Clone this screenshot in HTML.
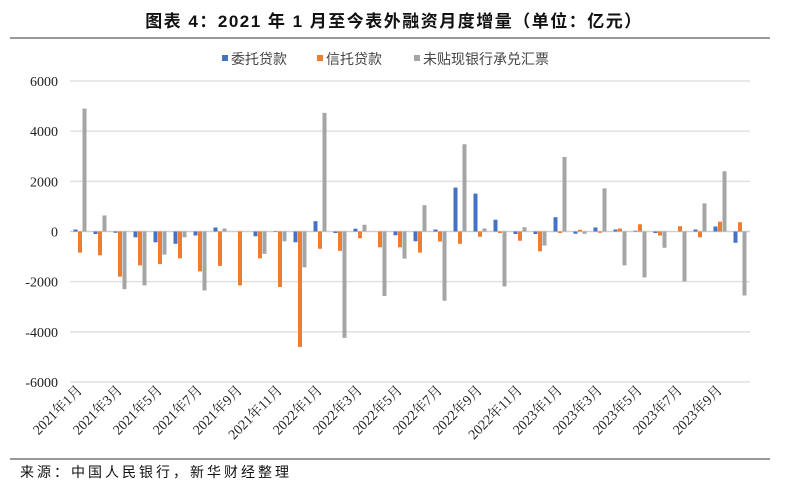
<!DOCTYPE html>
<html><head><meta charset="utf-8"><style>
body{margin:0;background:#fff;width:788px;height:492px;overflow:hidden;font-family:"Liberation Sans","Noto Sans CJK SC",sans-serif;}
</style></head><body>
<svg width="788" height="492" xmlns="http://www.w3.org/2000/svg">
<text x="394" y="27" text-anchor="middle" font-size="17" font-weight="bold" letter-spacing="1.5" fill="#111" font-family="Liberation Sans, Noto Sans CJK SC, sans-serif">图表 4：2021 年 1 月至今表外融资月度增量（单位：亿元）</text>
<line x1="10" y1="38" x2="770" y2="38" stroke="#333" stroke-width="1"/>
<g id="legend" font-size="14" fill="#444" font-family="Liberation Sans, Noto Sans CJK SC, sans-serif"></g>
<g id="grid"></g><g id="bars"></g><g id="xlabels"></g>
<line x1="10" y1="459" x2="770" y2="459" stroke="#333" stroke-width="1"/>
<text x="20" y="477" font-size="14" letter-spacing="3" fill="#111" font-family="Liberation Sans, Noto Sans CJK SC, sans-serif">来源：中国人民银行，新华财经整理</text>
</svg>
<script>
const categories=[];
for(let y=2021;y<=2023;y++)for(let m=1;m<=12;m++){if(y===2023&&m>10)break;categories.push(y+'年'+m+'月');}
const seriesNames=['委托贷款','信托贷款','未贴现银行承兑汇票'];
const entrusted=[80,-100,-50,-230,-430,-490,-160,160,0,-190,20,-430,410,-60,110,0,-150,-390,80,1750,1510,470,-100,-100,570,-90,160,80,30,-60,0,80,200,-450];
const trust=[-840,-950,-1800,-1350,-1300,-1070,-1590,-1370,-2150,-1070,-2210,-4600,-690,-770,-270,-630,-630,-840,-400,-490,-210,-60,-370,-790,-60,70,-50,120,290,-160,210,-230,390,370];
const bills=[4900,640,-2300,-2150,-920,-230,-2350,120,0,-890,-390,-1430,4730,-4240,270,-2570,-1080,1050,-2760,3480,120,-2190,170,-560,2970,-90,1720,-1350,-1830,-650,-1990,1120,2400,-2550];
const yTicks=[6000,4000,2000,0,-2000,-4000,-6000];
const colors=['#4472c4','#ed7d31','#a5a5a5'];
const NS='http://www.w3.org/2000/svg';
const L=70,R=750,yTop=81,yBot=382,vMax=6000,vMin=-6000;
const yS=v=>yTop+(vMax-v)/(vMax-vMin)*(yBot-yTop);
const step=(R-L)/categories.length;
const xC=i=>L+step*(i+0.5);
function mk(t,a){const e=document.createElementNS(NS,t);for(const k in a)e.setAttribute(k,a[k]);return e;}
const grid=document.getElementById('grid');
yTicks.forEach(v=>{
 const ln=mk('line',{x1:L,x2:R,y1:yS(v),y2:yS(v),stroke:v===0?'#d0d0d0':'#e0e0e0','stroke-width':1.5});
 
 
 grid.appendChild(ln);
 const t=mk('text',{x:58,y:yS(v)+5,'text-anchor':'end','font-size':14,fill:'#222','font-family':'Liberation Serif, serif'});
 t.textContent=String(v);
 
 
 grid.appendChild(t);
});
const bars=document.getElementById('bars');
const series=[entrusted,trust,bills];
series.forEach((arr,s)=>{arr.forEach((v,i)=>{
 const x=xC(i)+(s-1)*4.5-2;const y0=yS(0),y1=yS(v);
 const r=mk('rect',{x:x,y:Math.min(y0,y1),width:4,height:Math.max(Math.abs(y1-y0),0.01),fill:colors[s]});
 
 
 bars.appendChild(r);
});});
const xl=document.getElementById('xlabels');
categories.forEach((c,i)=>{if(i%2)return;
 const x=xC(i)+3,y=391;
 const t=mk('text',{x:x,y:y,'text-anchor':'end','font-size':14,fill:'#222','font-family':'Liberation Serif, Noto Serif CJK SC, serif',transform:'rotate(-45 '+x+' '+y+')'});
 t.textContent=c;
 
 
 xl.appendChild(t);
});
const lg=document.getElementById('legend');
const lx=[222,317,414];
seriesNames.forEach((n,s)=>{
 const r=mk('rect',{x:lx[s],y:55,width:6,height:6,fill:colors[s]});
 
 
 lg.appendChild(r);
 const t=mk('text',{x:lx[s]+9,y:64});
 t.textContent=n;
 
 
 lg.appendChild(t);
});
</script>
</body></html>
